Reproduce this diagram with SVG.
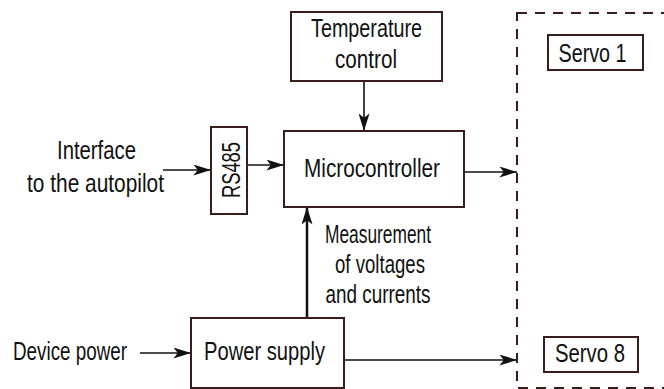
<svg xmlns="http://www.w3.org/2000/svg" width="664" height="389" viewBox="0 0 664 389">
<style>
.box{fill:#fff;stroke:#3b1c1c;stroke-width:2}
.t{font-family:"Liberation Sans",Arial,sans-serif;font-size:25px;fill:#111;text-anchor:middle}
.c{stroke:#111;stroke-width:1.6;fill:none;marker-end:url(#ah)}
</style>
<defs>
<marker id="ah" viewBox="0 0 16 10" refX="16" refY="5" markerWidth="18" markerHeight="11" markerUnits="userSpaceOnUse" orient="auto">
<path d="M0,0 L16,5 L0,10 L4,5 Z" fill="#111"/>
</marker>
</defs>
<rect width="664" height="389" fill="#fff"/>
<g id="connectors">
<line class="c" x1="364" y1="81" x2="364" y2="131"/>
<line class="c" x1="163" y1="170" x2="211" y2="170"/>
<line class="c" x1="247" y1="165" x2="284" y2="165"/>
<line class="c" x1="460" y1="172" x2="517" y2="172"/>
<line class="c" x1="307" y1="318" x2="307" y2="207" style="stroke-width:2.5"/>
<line class="c" x1="140" y1="353" x2="191" y2="353"/>
<line class="c" x1="344" y1="360" x2="517" y2="360"/>
</g>
<g id="servo-group">
<rect x="517" y="13" width="160" height="375" fill="none" stroke="#3b1c1c" stroke-width="2" stroke-dasharray="10,8"/>
</g>
<g id="temperature">
<rect class="box" x="291" y="12" width="151" height="69"/>
<text class="t" x="366.5" y="37" textLength="111" lengthAdjust="spacingAndGlyphs">Temperature</text>
<text class="t" x="366" y="68" textLength="62" lengthAdjust="spacingAndGlyphs">control</text>
</g>
<g id="microcontroller">
<rect class="box" x="284" y="131" width="180" height="76"/>
<text class="t" x="372" y="177" textLength="136" lengthAdjust="spacingAndGlyphs">Microcontroller</text>
</g>
<g id="rs485">
<rect class="box" x="211" y="127" width="36" height="87"/>
<text class="t" transform="translate(240,170) rotate(-90)" textLength="56" lengthAdjust="spacingAndGlyphs">RS485</text>
</g>
<g id="interface">
<text class="t" x="96.5" y="159" textLength="79" lengthAdjust="spacingAndGlyphs">Interface</text>
<text class="t" x="95.5" y="192" textLength="137" lengthAdjust="spacingAndGlyphs">to the autopilot</text>
</g>
<g id="measurement">
<text class="t" x="378" y="243" textLength="106" lengthAdjust="spacingAndGlyphs">Measurement</text>
<text class="t" x="380" y="273" textLength="90" lengthAdjust="spacingAndGlyphs">of voltages</text>
<text class="t" x="378" y="303" textLength="105" lengthAdjust="spacingAndGlyphs">and currents</text>
</g>
<g id="device-power">
<text class="t" x="70" y="360" textLength="114" lengthAdjust="spacingAndGlyphs">Device power</text>
</g>
<g id="power-supply">
<rect class="box" x="191" y="318" width="153" height="70"/>
<text class="t" x="264.5" y="360" textLength="121" lengthAdjust="spacingAndGlyphs">Power supply</text>
</g>
<g id="servo1">
<rect class="box" x="548" y="35" width="95" height="35"/>
<text class="t" x="592.5" y="62" textLength="68" lengthAdjust="spacingAndGlyphs">Servo 1</text>
</g>
<g id="servo8">
<rect class="box" x="544" y="337" width="94" height="35"/>
<text class="t" x="590" y="362" textLength="70" lengthAdjust="spacingAndGlyphs">Servo 8</text>
</g>
</svg>
